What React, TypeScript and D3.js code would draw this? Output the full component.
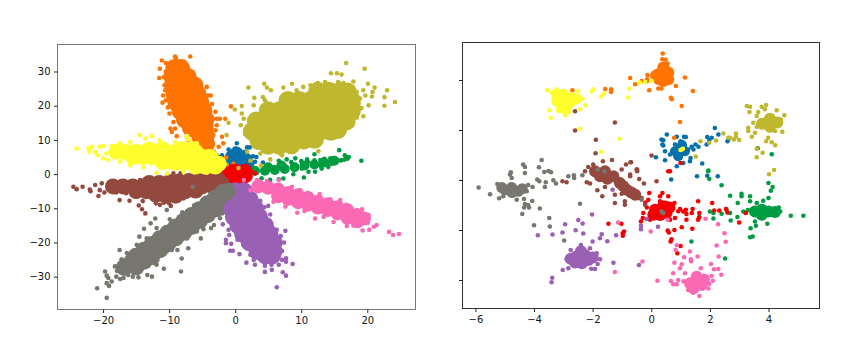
import React, { useEffect, useRef } from "react";
import * as d3 from "d3";

type P = [number, number];

const seriesColors = ["#0570ab", "#ff7300", "#009c41", "#f40000", "#9a60b4", "#93493e", "#fb69b4", "#77776f", "#bfb72d", "#ffff2e"];

const leftXTicks = [-20, -10, 0, 10, 20];
const leftYTicks = [-30, -20, -10, 0, 10, 20, 30];
const rightXTicks = [-6, -4, -2, 0, 2, 4];
const rightYTicks = [-4, -2, 0, 2, 4];

// LEFT PANEL: densely packed centres of each cluster, then individually visible points
const blueCoreL: P[] = [[-0.5, 5], [1, 5], [0, 3], [1.5, 3], [-1, 2.8], [0.3, 1.5], [0.2, 6], [1.6, 4.2]];
const bluePtsL: P[] = [[0.25, 9], [-1, 7.2], [0, 7.5], [1.8, 7.8], [2.2, 7.8], [1.5, 6.5], [2.7, 5.2], [3, 3.6], [4.2, 3.4], [-2.3, 5], [-1.7, 3.6], [-1.9, 2], [2.5, 2.1], [3.2, 5], [-2, 5.5], [2.6, 3]];
const orangeCoreL: P[] = [[-9.2, 31], [-8.2, 31], [-9.5, 28.5], [-8.3, 28.5], [-7.2, 28.5], [-9.4, 26], [-8.2, 26], [-7, 26], [-6.2, 26], [-9.2, 23.5], [-8, 23.5], [-6.8, 23.5], [-5.7, 23.5], [-8.9, 21], [-7.7, 21], [-6.5, 21], [-5.3, 21], [-8.3, 18.5], [-7.1, 18.5], [-5.9, 18.5], [-4.8, 18.5], [-7.6, 16], [-6.4, 16], [-5.2, 16], [-4.5, 16], [-6.7, 13.5], [-5.6, 13.5], [-4.6, 13.5], [-5.3, 11], [-4.5, 11], [-4.4, 8.8]];
const orangePtsL: P[] = [[-11.1, 33.2], [-10.5, 32.5], [-9.1, 34.4], [-8.95, 33.8], [-8.1, 33], [-7.7, 32.8], [-6.8, 34.4], [-11.4, 30.8], [-11.5, 28.1], [-10.8, 28.4], [-10.9, 23], [-10.5, 21.6], [-11, 20.9], [-9.75, 31.8], [-8.85, 31.3], [-7.3, 29.8], [-6.2, 27.9], [-5.6, 25.5], [-4.3, 25.5], [-3.7, 23], [-4.1, 23], [-3, 18.2], [-1.5, 16.2], [-2.3, 16.2], [-2.8, 16.2], [-2.8, 14.3], [-3, 12.8], [-9.8, 13.3], [-9.1, 13.3], [-9.6, 12.3], [-8.85, 11.1], [-9.95, 17.7], [-9.35, 15.2], [-3.3, 11.4], [-2, 10.9], [-2.5, 8], [-1.8, 9], [-2.8, 5.5], [-2, 4.5], [-0.65, 19.8], [-3.8, 8.4], [-7.3, 10.9], [-7.1, 9.9], [-4.4, 7.5], [-10.5, 30], [-10.7, 26], [-10.6, 24.5], [-4.5, 21], [-3.5, 20.5], [-3.4, 16], [-0.25, 3.1], [-1.35, 4.85], [-3.2, 6.5], [-3.6, 5], [-10.2, 19.5]];
const greenCoreL: P[] = [[3, 1], [4.5, 1], [6, 1.2], [7.5, 1.5], [9, 2], [10.5, 2.5], [12, 2.8], [5, 2], [7, 2.5], [13.5, 3.4], [15, 3.9]];
const greenPtsL: P[] = [[13, 3], [13.5, 3.5], [14, 3.2], [14.5, 3.8], [15, 3.5], [15.5, 4], [16, 4], [16.5, 4.2], [16.8, 4.6], [17, 4.5], [17.2, 5], [16.6, 5.5], [19.1, 3.9], [15.75, 7], [12, 5.8], [7.8, 4.3], [9.1, 4.6], [6.6, 3.9], [10.9, 4.3], [12.9, 4.1], [14.4, 4.6], [10.1, 1.6], [11.1, 0.7], [12.1, 0.7], [13.1, 1.6], [14.1, 2.1], [8.8, -0.05], [10.4, -1], [7.3, -1.3], [6.6, -1.5], [12, 4], [11, 3.6], [10, 3.8], [8.5, 3.5], [5.3, -1.7], [4, -1.2], [13.5, 4.5], [15, 4.6], [13, 2.2], [14.6, 3]];
const redCoreL: P[] = [[-1.5, 1], [0, 1], [1.5, 1], [-2.5, 0.5], [-1, -1], [0.5, -1], [-1.5, -3], [-0.5, -3], [0, -2.5], [1.6, -0.6]];
const redPtsL: P[] = [[-3.1, 0.6], [-2.9, -0.5], [-2.6, -2], [-2.3, -4], [-1.6, -4.7], [2.4, 0.8], [3, 0.2], [1.9, 1.8], [-0.6, 2.2], [-2, 1.9]];
const purpleCoreL: P[] = [[0, -5], [1.3, -5], [-0.4, -7.5], [1, -7.5], [2.2, -7.5], [-0.6, -10], [0.8, -10], [2.2, -10], [3, -10], [-0.2, -12.5], [1.2, -12.5], [2.6, -12.5], [3.6, -12.5], [0.5, -15], [1.9, -15], [3.3, -15], [4.5, -15], [1.2, -17.5], [2.6, -17.5], [4, -17.5], [5.2, -17.5], [2.2, -20], [3.6, -20], [5, -20], [5.8, -20], [3.4, -22.5], [4.8, -22.5], [5.8, -22.5], [4.6, -23.8], [5.6, -23.8]];
const purplePtsL: P[] = [[7.6, -16.6], [7.4, -20], [6.9, -18.1], [7.1, -22.5], [7.7, -24.6], [7.7, -25.6], [8.7, -26.3], [7.1, -25.1], [6.6, -26.5], [5.5, -26.5], [4.5, -26.8], [5.55, -28], [4.5, -28.6], [7.2, -28.7], [7.7, -29.7], [6.3, -33.1], [3, -26.5], [1.7, -25.9], [2.3, -23.6], [2.8, -25.1], [0.65, -23.4], [-0.76, -22.4], [-0.35, -22.4], [-0.6, -20.4], [-1.4, -20.2], [-1.4, -19.2], [1.26, -20.7], [0.35, -19.2], [-1, -16.3], [-0.9, -17.8], [-1.87, -14.7], [-0.76, -13], [3.8, -7.8], [5, -9.3], [4.4, -9.7], [5.3, -11.8], [4, -11], [5.3, -14.4], [6.3, -16.3], [0.75, -4.7], [2.3, -4.7], [-1.4, -10], [-1.3, -8], [-1, -12], [6.8, -20.5], [6.6, -24]];
const brownCoreL: P[] = [[-18.5, -3.6], [-17, -3.6], [-15.5, -3.6], [-14, -3.6], [-12.5, -3.6], [-11, -3.6], [-9.5, -3.6], [-8, -3.6], [-6.5, -3.6], [-5, -3.6], [-3.5, -3.4], [-2, -3], [-13, -2.6], [-11.5, -2.6], [-10, -2.4], [-8.5, -2.2], [-7, -2], [-5.5, -2], [-4, -2], [-2.5, -2], [-15, -5], [-13.5, -5], [-12, -5], [-10.5, -5], [-9, -5], [-7.5, -5], [-6, -4.8], [-12, -6], [-10.5, -6.3], [-9, -6.3]];
const brownPtsL: P[] = [[-24.5, -3.7], [-24, -4.4], [-23.1, -3.7], [-22, -4.5], [-21.9, -5], [-21.2, -3.2], [-20.2, -2.7], [-20.7, -6.4], [-20.5, -4.7], [-17.5, -7.6], [-16, -7.8], [-14.6, -9.2], [-14.1, -10.3], [-13.6, -11.5], [-14, -7.9], [-12, -8.55], [-11.4, -9], [-10.8, -8.4], [-11.4, -7.1], [-9.35, 0.2], [-8.3, 0.2], [-14.4, -1.75], [-11.9, -1.3], [-16.9, -2.2], [-18.2, -2.4], [-12.9, -6.6], [-14.9, -6.1], [-9.9, -7.6], [-7.8, -7.1], [-6.3, -5.6], [-4.3, -4.2], [-2.8, -3.2], [-1.3, -1.75], [-9.75, -9.3], [-10, -8.5], [-19.8, -5.4], [-18, -5.4], [-16.5, -5.6], [-7, -0.6], [-4.5, -0.5], [-2, -0.3], [-9.6, -0.7]];
const pinkCoreL: P[] = [[3.5, -3.6], [5, -4], [6.5, -4.5], [8, -5.5], [9.5, -6.2], [11, -7], [12.5, -8], [14, -8.8], [15.5, -9.7], [17, -10.6], [18.5, -12], [19.5, -13], [6.5, -6.5], [8, -7.2], [9.5, -8.2], [11, -9], [12.5, -9.8], [14, -10.5], [15.5, -11.5], [17, -12.8], [18.5, -13.8]];
const pinkPtsL: P[] = [[23.3, -16.9], [23.9, -17.8], [24.8, -17.5], [21.4, -14.9], [21, -15.4], [20.3, -16.3], [19.3, -16.5], [20.2, -11.95], [19.2, -10.3], [18.4, -10.5], [15.9, -7.6], [14.4, -7.4], [12.8, -5.8], [9.8, -4.7], [8.6, -3.7], [1.3, -1.75], [2.3, -4.7], [5.8, -8.1], [7.6, -9.5], [9.4, -11.3], [12.1, -13], [14.9, -14], [16.9, -15.2], [6.6, -1.75], [4.8, -2], [3.3, -1.75], [10.5, -10.8], [13.4, -12.5], [17.9, -15], [20.1, -14.2], [11, -5.5], [16.8, -9]];
const grayCoreL: P[] = [[-16.8, -27.3], [-15.6, -25.6], [-14.4, -23.9], [-13.2, -22.2], [-12, -20.5], [-10.8, -18.8], [-9.6, -17.1], [-8.4, -15.4], [-7.2, -13.7], [-6, -12], [-4.8, -10.3], [-3.6, -8.6], [-2.4, -6.9], [-1.2, -5.2], [-15, -27.2], [-13.8, -25.5], [-12.6, -23.8], [-11.4, -22.1], [-10.2, -20.4], [-9, -18.7], [-7.8, -17], [-6.6, -15.3], [-5.4, -13.6], [-4.2, -11.9], [-3, -10.2], [-15, -24], [-13.8, -22.3], [-12.6, -20.6], [-11.4, -18.9], [-10.2, -17.2], [-9, -15.5], [-7.8, -13.8], [-6.6, -12.1], [-5.4, -10.4], [-4.2, -8.7], [-3, -7], [-1.8, -5.3]];
const grayPtsL: P[] = [[-20.9, -33.4], [-19.45, -36.2], [-19.7, -28.5], [-19.45, -29.7], [-19.2, -30.4], [-19.45, -31.9], [-19.1, -32.7], [-18.7, -31.4], [-18.2, -27], [-17.5, -22.2], [-17.2, -24.9], [-18, -30], [-17.4, -30.7], [-16.9, -30.4], [-16.2, -29.5], [-15.5, -30], [-14.65, -30.2], [-13.3, -29.5], [-12.6, -30], [-11.9, -26.5], [-11.8, -25.3], [-10.8, -27.7], [-8.2, -28.5], [-8.1, -24.7], [-7.1, -21.7], [-8.75, -22.2], [-9.6, -22.2], [-13.8, -16], [-12.8, -14.4], [-14.5, -18.3], [-12.1, -13], [-10.35, -10.5], [-5.2, -18.8], [-5.8, -16.8], [-4.8, -16.1], [-3.65, -15.8], [-3.2, -14.9], [-2, -11.5], [-2.3, -12.9], [-6.4, -3.7], [-0.75, -3.2], [-1.8, -4], [-16.4, -23.1], [-14.9, -20.7], [-13.4, -18.8], [-10.35, -22.6], [-7.3, -18.8], [-4.3, -13], [-12.4, -26], [-14.4, -27.5], [-17.9, -28.3], [-16.6, -25.2], [-11.9, -15.8], [-9.9, -13.2], [-8, -11.2], [-6.2, -9.1]];
const oliveCoreL: P[] = [[12.5, 24.2], [14.2, 24.2], [15.9, 24.2], [17, 24], [8, 21.5], [9.7, 21.5], [11.4, 21.5], [13.1, 21.5], [14.8, 21.5], [16.5, 21.5], [17.6, 21.5], [5, 18.5], [6.7, 18.5], [8.4, 18.5], [10.1, 18.5], [11.8, 18.5], [13.5, 18.5], [15.2, 18.5], [16.9, 18.5], [17.6, 18.5], [3.2, 15.5], [4.9, 15.5], [6.6, 15.5], [8.3, 15.5], [10, 15.5], [11.7, 15.5], [13.4, 15.5], [15.1, 15.5], [16.8, 15.5], [2.6, 12.5], [4.3, 12.5], [6, 12.5], [7.7, 12.5], [9.4, 12.5], [11.1, 12.5], [12.8, 12.5], [14.5, 12.5], [15.5, 13], [3.6, 9.8], [5.3, 9.8], [7, 9.8], [8.7, 9.8], [10.4, 10], [12, 10.2], [5, 8.4], [6.7, 8.4], [8.5, 8.6]];
const olivePtsL: P[] = [[16.8, 32.5], [19.6, 30.8], [14.5, 29.5], [15.4, 29.5], [16.1, 29.1], [17.9, 27.1], [20.1, 26.4], [21.1, 25.3], [20.8, 24], [23, 24.5], [22.6, 22.5], [24.2, 21.1], [22.6, 20], [20.7, 22.7], [19.4, 24.5], [19.7, 23], [20.2, 20.1], [19.4, 16.9], [18.4, 16.5], [17.7, 14.3], [15, 11.3], [12.6, 6.7], [8.6, 26.4], [7.3, 25.3], [4.4, 26.4], [4.8, 25.3], [5.4, 24.5], [2, 25.3], [2.9, 22.3], [1, 19.9], [-0.05, 18.9], [4.2, 22.5], [4.5, 21.6], [2.8, 20.1], [1, 17.7], [1.3, 16.2], [0.85, 14.3], [1.5, 11.8], [2.4, 10.4], [-1, 15], [-1.3, 11.4], [5.3, 4.3], [7.1, 5.5], [3.8, 6], [3.9, 2.5], [2.3, 3.9], [1.8, 6.5], [0.5, 1.8], [-1.8, 3.9], [-1.3, 2.8], [9.3, 24.5], [11.4, 26], [13.6, 26.9], [15.6, 26.9], [16.4, 26.6], [18.4, 24], [18.7, 20.6], [18.4, 17.7], [16.4, 13.8], [13.9, 11.4], [12.4, 9.9], [10.3, 8], [8.8, 7], [6.8, 6], [4.8, 6.5], [2.8, 8.4], [19.1, 19.3], [18.9, 22.1], [10.3, 25.5], [12.5, 26.6]];
const yellowCoreL: P[] = [[-18, 6.5], [-16.5, 6.5], [-15, 6.5], [-13.5, 6.5], [-12, 6.5], [-10.5, 6.5], [-9, 6.5], [-7.5, 6.5], [-6, 6.5], [-15.5, 5], [-14, 5], [-12.5, 5], [-11, 5], [-9.5, 5], [-8, 5], [-6.5, 5], [-5, 5], [-3.8, 5], [-11, 3.5], [-9.5, 3.5], [-8, 3.3], [-6.5, 3.3], [-5, 3.3], [-3.5, 3.3], [-2.5, 3], [-6, 2.2], [-4.5, 2.2], [-3, 2.2], [-8, 7.3], [-6.5, 7.3], [-11, 7.3], [-13, 7.2]];
const yellowPtsL: P[] = [[-24, 7.5], [-22.2, 7.5], [-22.1, 6.5], [-21.7, 8], [-21.2, 6.5], [-20.9, 5.5], [-20.5, 8], [-20, 8.2], [-18.7, 8.2], [-17.4, 9], [-15.9, 9.4], [-14.5, 11.4], [-13.6, 10.4], [-12.6, 11.1], [-11.4, 9.9], [-9.1, 9.4], [-7.3, 11.1], [-7.1, 10.1], [-5.8, 9], [-4.3, 6.5], [-3.5, 3.6], [-2.3, 2.1], [-2.8, 3.6], [-20, 4.6], [-19.2, 4.1], [-17.4, 3.6], [-15.9, 2.6], [-13.9, 2], [-11.9, 0.4], [-10.3, 0.2], [-7.8, 0.7], [-4.3, 0.4], [-3, 0.7], [-19.5, 6], [-17, 4.8], [-12.7, 3.2], [-9, 1.6]];

// RIGHT PANEL
const blueCoreR: P[] = [[0.98, 1.22], [0.81, 1.15], [1.15, 1.15], [0.92, 0.95], [1.05, 1.4]];
const bluePtsR: P[] = [[0.35, 1.62], [0.41, 1.59], [0.38, 1.42], [0.41, 1.38], [0.47, 1.15], [0.53, 1.82], [0.87, 1.73], [1.12, 1.73], [1.18, 1.72], [1, 1.55], [0.81, 1.42], [1.38, 1.33], [1.51, 1.42], [1.61, 1.33], [1.44, 1.22], [1.26, 1.22], [0.16, 0.91], [0.47, 0.79], [0.64, 1.02], [1.09, 0.68], [1.32, 0.75], [1.34, 0.88], [0.87, 0.55], [1.74, 0.66], [2.17, 2.08], [2.29, 1.82], [1.91, 1.72], [2.06, 1.69], [1.98, 1.6], [1.89, 1.42], [2.6, 1.55], [2.64, 1.65], [1.56, 0.15], [1.91, 0.17], [2.27, 0.15], [0.68, 0.02]];
const orangeCoreR: P[] = [[0.24, 4.23], [0.41, 4.23], [0.58, 4.3], [0.41, 3.96], [0.58, 4.03], [0.41, 4.5], [0.16, 4.17], [0.27, 4.03]];
const orangePtsR: P[] = [[-2.69, 3.59], [-1.57, 3.64], [-1.37, 3.63], [-1.37, 3.52], [-0.72, 4.08], [-0.55, 3.83], [0.39, 5.06], [0.38, 4.83], [0.49, 4.81], [0.56, 4.66], [-0.13, 4.2], [-0.14, 4.03], [-0.33, 3.96], [-0.07, 3.59], [0.24, 3.66], [0.35, 3.66], [0.84, 3.76], [1.15, 4.1], [1.42, 3.56], [0.67, 3.29], [0.7, 3.23], [1.04, 2.96], [0.98, 2.32], [0.78, 1.69], [-0.15, 3.95]];
const greenCoreR: P[] = [[3.54, -1.26], [3.77, -1.19], [4, -1.26], [4.22, -1.28], [3.77, -1.39]];
const greenPtsR: P[] = [[3.82, -0.83], [3.6, -0.92], [3.37, -0.85], [3.08, -0.55], [3.08, -0.65], [3.37, -0.65], [2.69, -0.63], [2.95, -0.92], [4, -0.12], [4.14, -0.28], [4.08, -0.43], [4, -0.72], [2.4, -0.21], [1.98, 0.04], [1.94, 0.35], [3.14, -1.26], [3.2, -1.3], [2.94, -1.48], [2.71, -1.62], [3.54, -1.66], [3.39, -1.93], [3.57, -1.83], [3.96, -1.75], [3.37, -2.29], [3.46, -2.26], [4.76, -1.43], [5.19, -1.43], [2.52, -3.14], [1.37, -2.46], [2, -1.26], [2.12, -1.32], [2.12, -1.54], [2.4, -1.35], [2.57, -1.19], [2.69, -1.32], [1.64, -1.48], [4.11, 1.03], [3.63, 1.27], [1.95, 0.38], [4.4, -1.26], [4.35, -1.1], [3.3, -1.2]];
const redCoreR: P[] = [[0.13, -1.19], [0.35, -1.19], [0.52, -1.32], [0.07, -1.39], [0.3, -1.4], [0.4, -1.05], [0.62, -1.1]];
const redPtsR: P[] = [[-0.07, -0.52], [0.38, -0.52], [0.3, -0.65], [0.58, -0.65], [-0.44, -0.72], [-0.1, -0.79], [0.3, -0.85], [0.52, -0.92], [0.79, -0.92], [1.6, -0.85], [2.08, -0.92], [0.64, 0.35], [-0.27, -1.32], [-0.29, -1.52], [-0.35, -1.66], [-0.04, -1.59], [0.64, -1.59], [0.81, -1.52], [1.09, -1.26], [0.98, -1.16], [1.18, -1.19], [1.2, -1.36], [1.41, -1.16], [1.38, -1.32], [1.64, -1.32], [1.6, -1.59], [1.63, -1.5], [1.2, -1.59], [1.04, -1.89], [1.4, -1.95], [0.79, -2], [0.56, -2.02], [0.6, -2.1], [0.69, -2.37], [0.66, -2.46], [1, -2.64], [0.89, -2.93], [2.15, -1.22], [2.32, -1.22], [2.55, -1.16], [2.6, -1.3], [3, -1.7], [3.23, -1.32], [-1.46, -1.75], [-1.02, -1.75], [-0.93, -2.06], [-0.97, -2.13], [-0.97, -2.23], [-0.5, -0.59], [0.58, 0.35], [1, 0.68], [0.92, -1.25], [-0.15, -1.1], [-0.2, -0.9]];
const purpleCoreR: P[] = [[-2.55, -3.06], [-2.26, -3], [-2.37, -3.33], [-2.15, -3.2], [-2.6, -3.3], [-2.75, -3.15], [-2, -3.1], [-2.4, -2.85]];
const purplePtsR: P[] = [[-3.38, -3.91], [-3.4, -4.09], [-3.02, -3.6], [-2.83, -3.53], [-2.89, -3.17], [-2.75, -2.8], [-2.4, -2.6], [-2.09, -2.73], [-1.86, -2.93], [-1.75, -3.17], [-1.83, -3.36], [-1.92, -3.56], [-2.05, -3.55], [-2, -2.46], [-1.75, -2.33], [-1.5, -2.45], [-1.69, -2.17], [-1.2, -2.21], [-2.32, -2.14], [-2.58, -2.01], [-3.03, -2.1], [-3.37, -2.18], [-3.87, -2.21], [-2.94, -1.77], [-2.49, -1.6], [-2.34, -1.74], [-2.02, -1.38], [-1.29, -3.31], [-0.42, -3.4], [-1.32, -0.39], [-0.35, -1.83], [-0.35, -1.97], [-0.16, -1.56], [0.23, -1.87]];
const brownCoreR: P[] = [[-1.92, 0.35], [-1.58, 0.35], [-1.29, 0.15], [-1.75, 0.15], [-1.07, -0.12], [-0.84, -0.39], [-0.55, -0.59], [-1.5, 0.05], [-0.95, -0.25], [-0.68, -0.5]];
const brownPtsR: P[] = [[-2.6, 2.75], [-2.6, 1.98], [-1.24, 2.3], [-1.89, 1.61], [-1.9, 1.07], [-1.34, 0.8], [-1.65, 0.75], [-0.71, 0.71], [-0.86, 0.62], [-1.01, 0.42], [-0.5, 0.42], [-0.72, 0.22], [-2.26, 0.35], [-2.15, 0.52], [-1.98, 0.62], [-3.03, -0.05], [-2.89, -0.09], [-2.2, -0.09], [-2.09, -0.14], [-1.84, -0.41], [-1.58, -0.28], [-1.67, -0.65], [-1.24, -0.59], [-1.24, -0.92], [-0.9, -0.85], [-0.9, -0.99], [-1.01, -0.55], [-0.72, 0.15], [-0.67, -0.52], [-0.44, -0.59], [-0.33, -0.72], [-0.21, -0.99], [0.18, -0.05], [-0.25, -0.14], [-0.41, 0.04], [-0.48, 0.35], [0.01, 0.98], [-0.48, 0.42], [-0.69, 0.71]];
const pinkCoreR: P[] = [[1.32, -4.13], [1.55, -4.07], [1.72, -4.2], [1.44, -4.34], [1.55, -3.87], [1.8, -3.98]];
const pinkPtsR: P[] = [[1.64, -4.64], [1.89, -3.89], [2.06, -3.84], [2.1, -4.03], [1.95, -4.34], [2.29, -3.56], [2.14, -3.57], [2.39, -3.79], [2.04, -3.36], [2.3, -3.06], [2.23, -2.62], [2.54, -2.47], [2.5, -2.13], [2.28, -1.77], [1.85, -1.55], [0.79, -3.31], [1.04, -3.37], [1.12, -3.09], [1.32, -2.86], [1.58, -3.06], [1.35, -3.17], [1.36, -3.25], [0.98, -3.53], [1.15, -3.73], [0.75, -3.73], [0.67, -4.04], [0.92, -4], [0.75, -4.17], [0.87, -4.17], [1.69, -3.53], [0.83, -2.8], [0.87, -2.61], [0.21, -4.03], [-0.3, -3.26], [-0.02, -2.06], [0.56, -1.59], [1.26, -4.4], [1.43, -4.51], [-1.24, -3.68], [-1.13, -1.7], [1.1, -4.05], [1.98, -4.15]];
const grayCoreR: P[] = [[-4.99, -0.39], [-4.76, -0.3], [-4.54, -0.45], [-4.75, -0.5], [-5.1, -0.3], [-4.4, -0.35]];
const grayPtsR: P[] = [[-5.89, -0.3], [-5.5, -0.57], [-5.25, -0.16], [-5.19, -0.73], [-5.05, -0.65], [-4.82, 0.22], [-4.76, 0.08], [-4.31, 0.28], [-4.59, -0.79], [-4.34, -0.76], [-4.05, -0.28], [-3.89, 0.02], [-3.82, -0.05], [-3.6, -0.09], [-3.63, -0.28], [-3.34, -0.01], [-3.25, -0.14], [-4.06, -0.84], [-4.31, -0.96], [-4.2, -1], [-4.34, -1.1], [-4.17, -1.1], [-4.4, -1.36], [-3.8, -1.14], [-3.48, -1.52], [-4, -1.81], [-3.46, -1.86], [-2.97, -2.42], [-2.43, -0.95], [-3.74, 0.8], [-4.37, 0.62], [-4.31, 0.52], [-3.83, 0.51], [-3.65, 0.32], [-3.51, 0.36], [-3.42, 0.31], [-4.79, 0.31], [-2.83, 0.15], [-2.64, 0.19], [-2.63, 0.08], [-2.35, 0.19], [-1.83, 0.42], [-1.6, 0.35], [0.35, -1.26], [0.41, -1.32], [-0.33, -0.79], [-4.2, -0.2], [-4.25, -0.45]];
const oliveCoreR: P[] = [[3.94, 2.29], [4.17, 2.29], [4.05, 2.45], [4.05, 2.13], [3.78, 2.25], [4.3, 2.3]];
const olivePtsR: P[] = [[3.26, 2.96], [3.37, 2.93], [3.35, 2.72], [3.65, 2.72], [3.77, 2.93], [3.92, 3], [3.88, 2.83], [4.28, 2.79], [4.54, 2.59], [4.42, 2.42], [4.47, 1.93], [4.22, 1.96], [4.11, 1.51], [4.23, 1.39], [3.99, 1.69], [3.92, 1.55], [3.31, 2.09], [3.31, 1.96], [3.54, 1.89], [3.43, 1.73], [3.48, 2.29], [3.6, 2.13], [3.6, 2.56], [2.89, 1.86], [2.89, 1.73], [3, 1.6], [2.82, 1.62], [2.63, 1.69], [2.69, 1.69], [2.46, 1.86], [2.21, 1.58], [1.98, 1.49], [1.68, 1.55], [1.52, 0.94], [3.6, 1.25], [3.8, 1.09], [3.6, 0.91], [4.02, 0.23], [4.19, 0.4]];
const yellowCoreR: P[] = [[-3.23, 3.43], [-3, 3.43], [-2.72, 3.3], [-2.55, 3.25], [-3.23, 3.16], [-3, 3.16], [-2.77, 3.09], [-3.06, 2.89], [-2.89, 2.83]];
const yellowPtsR: P[] = [[-3.55, 3.59], [-3.4, 3.5], [-3.23, 3.63], [-2.49, 3.56], [-2.35, 3.25], [-2.24, 2.99], [-2.43, 2.83], [-3.48, 2.79], [-3.43, 2.49], [-2.94, 2.59], [-3.17, 2.76], [-1.98, 3.63], [-2.03, 3.54], [-1.61, 3.46], [-1.71, 3.34], [-0.76, 3.66], [-0.79, 3.3], [-0.42, 3.9], [-2.43, 2.05], [-1.09, 1.65], [-1.71, 1.13], [-0.39, 3.9], [-0.21, 3.92], [0.01, 3.97], [1.04, 1.22], [1, 1.2], [1.08, 1.25]];

const leftSeries: [P[], P[]][] = [[blueCoreL, bluePtsL], [orangeCoreL, orangePtsL], [greenCoreL, greenPtsL], [redCoreL, redPtsL], [purpleCoreL, purplePtsL], [brownCoreL, brownPtsL], [pinkCoreL, pinkPtsL], [grayCoreL, grayPtsL], [oliveCoreL, olivePtsL], [yellowCoreL, yellowPtsL]];
const rightSeries: [P[], P[]][] = [[blueCoreR, bluePtsR], [orangeCoreR, orangePtsR], [greenCoreR, greenPtsR], [redCoreR, redPtsR], [purpleCoreR, purplePtsR], [brownCoreR, brownPtsR], [pinkCoreR, pinkPtsR], [grayCoreR, grayPtsR], [oliveCoreR, olivePtsR], [yellowCoreR, yellowPtsR]];

const FONT = "'DejaVu Sans', sans-serif";

function panel(
  svg: d3.Selection<SVGSVGElement, unknown, null, undefined>,
  box: { l: number; r: number; t: number; b: number },
  xDom: [number, number], yDom: [number, number],
  xTicks: number[], yTicks: number[], showY: boolean,
  series: [P[], P[]][], frame: string, coreR: number[], dotR: number
) {
  const x = d3.scaleLinear().domain(xDom).range([box.l, box.r]);
  const y = d3.scaleLinear().domain(yDom).range([box.b, box.t]);
  const g = svg.append("g");
  series.forEach(([core, pts], i) => {
    g.append("g").selectAll("circle").data(core).join("circle")
      .attr("cx", (d) => x(d[0])).attr("cy", (d) => y(d[1])).attr("r", coreR[i]).attr("fill", seriesColors[i]);
    g.append("g").selectAll("circle").data(pts).join("circle")
      .attr("cx", (d) => x(d[0])).attr("cy", (d) => y(d[1])).attr("r", dotR).attr("fill", seriesColors[i]);
  });
  svg.append("rect").attr("x", box.l).attr("y", box.t).attr("width", box.r - box.l).attr("height", box.b - box.t)
    .attr("fill", "none").attr("stroke", frame).attr("stroke-width", 1);
  const ax = svg.append("g").attr("transform", `translate(0,${box.b})`)
    .call(d3.axisBottom(x).tickValues(xTicks).tickSize(3.5).tickPadding(3.5));
  const ay = svg.append("g").attr("transform", `translate(${box.l},0)`)
    .call(d3.axisLeft(y).tickValues(yTicks).tickSize(3.5).tickPadding(3.5).tickFormat(showY ? (d3.format("d") as any) : () => ""));
  [ax, ay].forEach((a) => {
    a.select(".domain").remove();
    a.selectAll("line").attr("stroke", "#222");
    a.selectAll("text").attr("fill", "#111").style("font-family", FONT).style("font-size", "10px");
  });
}

export default function App() {
  const ref = useRef<SVGSVGElement>(null);
  useEffect(() => {
    const svg = d3.select(ref.current!);
    svg.selectAll("*").remove();
    panel(svg, { l: 57.5, r: 415.5, t: 44.5, b: 309.5 }, [-26.9, 27.3], [-39.6, 37.9], leftXTicks, leftYTicks, true, leftSeries, "#777", [7, 9, 5, 7, 9, 8, 7, 8.5, 9.5, 8], 2.3);
    panel(svg, { l: 462.5, r: 819.5, t: 42.5, b: 308.5 }, [-6.44, 5.74], [-5.14, 5.5], rightXTicks, rightYTicks, false, rightSeries, "#333", [5, 6, 6, 6, 6, 6, 6, 5.5, 6, 5.5], 2.3);
  }, []);
  return <svg ref={ref} width={866} height={349} style={{ position: "absolute", left: 0, top: 0, background: "#fff" }} />;
}
